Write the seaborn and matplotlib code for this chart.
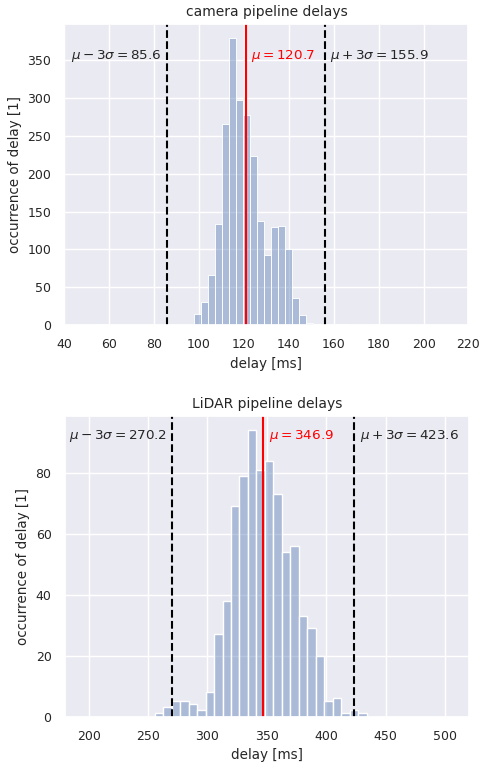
import numpy as np
import matplotlib
matplotlib.use("Agg")
import matplotlib.pyplot as plt
import seaborn as sns

# ---------- data ----------
# camera: 41 bins between 54.0 and 181.7 ms
cam_bin_range = (54.0, 181.7)
cam_counts = [1, 1, 0, 0, 0, 0, 0, 0, 0, 0, 0, 0, 0, 0,
              14, 30, 66, 134, 266, 379, 298, 277, 224, 137, 92, 129, 131, 100, 36, 13, 3, 1,
              0, 0, 1, 1, 0, 0, 0, 0, 1]
cam_stats = {"mu": 120.7, "lo": 85.6, "hi": 155.9}

# lidar: 25 bins between 255.6 and 434.0 ms
lidar_bin_range = (255.6, 434.0)
lidar_counts = [1, 3, 5, 5, 4, 2, 8, 27, 38, 69, 79, 94, 81, 84, 73, 54, 56, 33, 29, 20, 5, 6, 1, 2, 1]
lidar_stats = {"mu": 346.9, "lo": 270.2, "hi": 423.6}

sns.set_theme(style="darkgrid")
plt.rcParams["font.family"] = ["DejaVu Sans"]


def delay_hist(ax, counts, bin_range, stats, title, text_y):
    n = len(counts)
    w = (bin_range[1] - bin_range[0]) / n
    centers = bin_range[0] + w * (np.arange(n) + 0.5)
    sns.histplot(x=centers, weights=counts, bins=n, binrange=bin_range,
                 color="#4c72b0", alpha=0.4, ax=ax)
    ax.axvline(stats["mu"], color="red", lw=1.5)
    ax.axvline(stats["lo"], color="black", ls="--", lw=1.5)
    ax.axvline(stats["hi"], color="black", ls="--", lw=1.5)
    tr = ax.get_xaxis_transform()
    ax.annotate(r"$\mu - 3\sigma = %.1f$" % stats["lo"], (stats["lo"], text_y), xycoords=tr,
                xytext=(-4, 0), textcoords="offset points", ha="right", va="center",
                fontsize=9.7, color="#262626")
    ax.annotate(r"$\mu = %.1f$" % stats["mu"], (stats["mu"], text_y), xycoords=tr,
                xytext=(4, 0), textcoords="offset points", ha="left", va="center",
                fontsize=9.7, color="red")
    ax.annotate(r"$\mu + 3\sigma = %.1f$" % stats["hi"], (stats["hi"], text_y), xycoords=tr,
                xytext=(4, 0), textcoords="offset points", ha="left", va="center",
                fontsize=9.7, color="#262626")
    ax.set_title(title, fontsize=10)
    ax.set_xlabel("delay [ms]", fontsize=9.75)
    ax.set_ylabel("occurrence of delay [1]", fontsize=9.75)
    ax.tick_params(labelsize=9)


fig = plt.figure(figsize=(4.8, 7.62), dpi=100)
ax1 = fig.add_axes([0.134, 0.5735, 0.842, 0.395])
ax2 = fig.add_axes([0.135, 0.0597, 0.842, 0.3943])

delay_hist(ax1, cam_counts, cam_bin_range, cam_stats, "camera pipeline delays", 0.893)
ax1.set_xlim(40, 220)
ax1.set_xticks(np.arange(40, 221, 20))

delay_hist(ax2, lidar_counts, lidar_bin_range, lidar_stats, "LiDAR pipeline delays", 0.932)
ax2.set_xlim(180, 520)
ax2.set_xticks(np.arange(200, 501, 50))

fig.savefig("out.png", dpi=100)
